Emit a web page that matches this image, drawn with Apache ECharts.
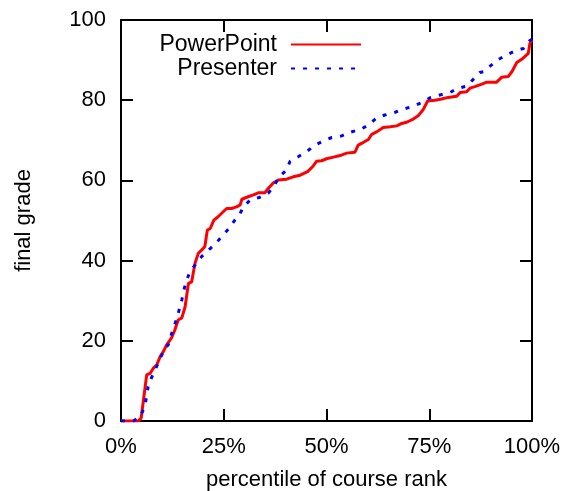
<!DOCTYPE html>
<html>
<head>
<meta charset="utf-8">
<script src="https://cdn.jsdelivr.net/npm/echarts@6/dist/echarts.min.js"></script>
<style>
html,body{margin:0;padding:0;background:#fff;}
#c{width:566px;height:491px;}
</style>
</head>
<body>
<div id="c"></div>
<script>
// Series names
const seriesNames = ['PowerPoint', 'Presenter'];
// PowerPoint: percentile of course rank (%) and final grade
const pptX = [0,4.2,4.9,6.25,7.1,7.9,8.7,9.5,10.3,11.1,12.3,13.1,13.9,14.8,15.6,16.4,17.2,18,18.8,19.6,20.4,21,21.7,22.6,23.7,24.5,25.7,26.9,28.1,29,29.4,30.6,32.2,33.4,35,35.8,37.1,38.3,40.3,41.9,43.6,45.4,46.6,47.6,48.8,50,51.7,53.3,54.9,56.9,57.7,59,60.2,61,62.2,63.8,65.5,67.1,68.3,69.5,71.1,72.3,73.5,74.6,76.4,78,79.6,81.7,82.5,84.1,84.9,86.1,87.8,89,91.4,92.6,94.2,95.1,96.3,97.5,99.1,99.5,100];
const pptY = [0,0,0.7,11.5,11.9,13.2,14,16,17.3,19,20.7,22.7,25.2,25.7,28.5,34.3,34.7,39.3,41.8,42.6,43.5,47.6,48,50.1,51,51.8,53,53,53.4,53.9,55.3,55.8,56.4,56.9,56.9,58,59.4,60.1,60.3,60.9,61.3,62.2,63.4,64.8,64.9,65.4,65.8,66.2,66.8,67,68.8,69.5,70.2,71.5,72.1,73.2,73.4,73.6,74.2,74.5,75.3,76.1,77.6,79.8,80,80.3,80.7,81,81.9,82.1,83,83.4,84,84.5,84.5,85.7,85.9,87.1,89.4,90.2,91.7,94.2,95];
// Presenter
const presX = [0,3,4.6,5.8,6.6,7.5,8.3,9.5,10.7,11.5,12.7,13.6,14.8,15.3,16,16.8,18,19.6,20.6,21.7,23.1,24.5,26.1,27.7,28.8,29.8,31.4,33.8,35.8,37.1,38.5,40.3,41.1,43.1,45.2,47.2,49.2,51.3,53.7,55.7,58.2,60.2,62.2,64.2,66.7,68.7,70.9,73.2,75.2,77.6,80,82.1,84.1,85.7,87.3,88.2,89.8,91.6,93.8,95.9,97.9,99.4,100];
const presY = [0,0,1,3.6,8.6,11,12.7,15.6,18.1,19,23.1,25.6,30.2,32.7,35.2,37.2,38.9,41,42,43,44.3,46,47.8,50.1,51.4,53.4,55.1,55.8,56.8,58.4,60.9,62.6,64.7,65.9,67.2,68.8,69.8,70.7,71.1,72,72.7,73.8,75.6,76.3,77,77.8,78.4,79.4,80.6,81.3,81.9,83,83.5,85.2,86.9,87.1,88.5,90,91.3,92.3,92.9,94.8,95.2];
// Axis settings
const xTicks = [0, 25, 50, 75, 100];
const yTicks = [0, 20, 40, 60, 80, 100];
const xTitle = 'percentile of course rank';
const yTitle = 'final grade';

const pair = (xs, ys) => xs.map((x, i) => [x, ys[i]]);
const FONT = '"Liberation Sans", Arial, Helvetica, sans-serif';
const axisLine = {show: true, onZero: false, lineStyle: {color: '#000', width: 2}};
const tick = {show: true, inside: true, length: 12, lineStyle: {color: '#000', width: 2}};

const chart = echarts.init(document.getElementById('c'), null, {renderer: 'canvas'});
chart.setOption({
  animation: false,
  backgroundColor: '#fff',
  textStyle: {fontFamily: FONT},
  grid: {left: 121, right: 34, top: 20, bottom: 70, containLabel: false, outerBoundsMode: 'none'},
  legend: {
    orient: 'vertical', right: 204, top: 33, padding: 0,
    align: 'right', itemWidth: 70, itemHeight: 14, itemGap: 1,
    itemStyle: {opacity: 0, borderWidth: 0},
    textStyle: {fontFamily: FONT, fontSize: 23, color: '#000', padding: [0, 9, 0, 0]},
    data: seriesNames
  },
  xAxis: [{
    type: 'value', min: xTicks[0], max: xTicks[xTicks.length - 1], interval: 25,
    position: 'bottom', axisLine, axisTick: tick, splitLine: {show: false},
    axisLabel: {fontFamily: FONT, fontSize: 22, color: '#000', margin: 15, formatter: '{value}%'},
    name: xTitle, nameLocation: 'middle', nameGap: 48,
    nameTextStyle: {fontFamily: FONT, fontSize: 22, color: '#000'}
  }, {
    type: 'value', min: xTicks[0], max: xTicks[xTicks.length - 1], interval: 25,
    position: 'top', axisLine, axisTick: tick, splitLine: {show: false},
    axisLabel: {show: false}
  }],
  yAxis: [{
    type: 'value', min: yTicks[0], max: yTicks[yTicks.length - 1], interval: 20,
    position: 'left', axisLine, axisTick: tick, splitLine: {show: false},
    axisLabel: {fontFamily: FONT, fontSize: 22, color: '#000', margin: 15},
    name: yTitle, nameLocation: 'middle', nameGap: 86,
    nameTextStyle: {fontFamily: FONT, fontSize: 22, color: '#000'}
  }, {
    type: 'value', min: yTicks[0], max: yTicks[yTicks.length - 1], interval: 20,
    position: 'right', axisLine, axisTick: tick, splitLine: {show: false},
    axisLabel: {show: false}
  }],
  series: [{
    name: seriesNames[0], type: 'line', data: pair(pptX, pptY),
    showSymbol: false, symbol: 'none', color: '#ff0000',
    lineStyle: {color: '#ff0000', width: 3}, z: 3
  }, {
    name: seriesNames[1], type: 'line', data: pair(presX, presY),
    showSymbol: false, symbol: 'none', color: '#0000ff',
    lineStyle: {color: '#0000ff', width: 3, type: [4, 8]}, z: 4
  }]
});
</script>
</body>
</html>
